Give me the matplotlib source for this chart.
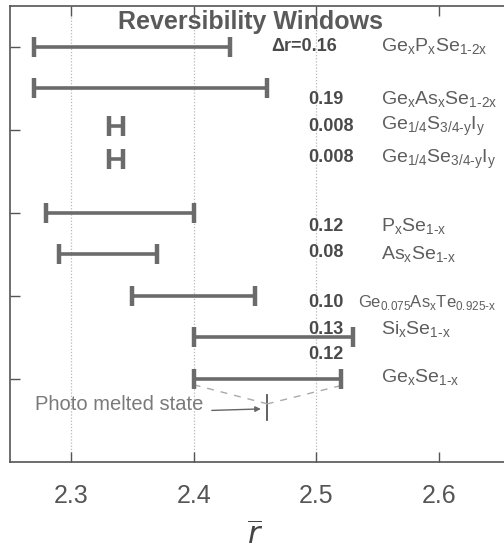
import matplotlib
matplotlib.use("Agg")
import matplotlib.pyplot as plt

plt.rcParams['font.family'] = ['Liberation Sans', 'DejaVu Sans']

# --- data: reversibility windows (r-bar ranges) ---
H = '\u2010'  # plain hyphen inside subscripts
systems = [r'Ge$_\mathregular{x}$P$_\mathregular{x}$Se$_\mathregular{1' + H + '2x}$',
           r'Ge$_\mathregular{x}$As$_\mathregular{x}$Se$_\mathregular{1' + H + '2x}$',
           r'Ge$_\mathregular{1/4}$S$_\mathregular{3/4' + H + r'y}$I$_\mathregular{y}$',
           r'Ge$_\mathregular{1/4}$Se$_\mathregular{3/4' + H + r'y}$I$_\mathregular{y}$',
           r'P$_\mathregular{x}$Se$_\mathregular{1' + H + 'x}$',
           r'As$_\mathregular{x}$Se$_\mathregular{1' + H + 'x}$',
           r'Ge$_\mathregular{0.075}$As$_\mathregular{x}$Te$_\mathregular{0.925' + H + 'x}$',
           r'Si$_\mathregular{x}$Se$_\mathregular{1' + H + 'x}$',
           r'Ge$_\mathregular{x}$Se$_\mathregular{1' + H + 'x}$']
widths = ['\u0394r=0.16', '0.19', '0.008', '0.008', '0.12', '0.08', '0.10', '0.13', '0.12']
r_low = [2.27, 2.27, 2.331, 2.331, 2.28, 2.29, 2.35, 2.40, 2.40]
r_high = [2.43, 2.46, 2.342, 2.342, 2.40, 2.37, 2.45, 2.53, 2.52]
row_y = [5.0, 4.5, 4.05, 3.65, 3.0, 2.5, 2.0, 1.5, 1.0]
width_y = [5.0, 4.36, 4.04, 3.66, 2.83, 2.52, 1.92, 1.60, 1.29]
label_y = [5.0, 4.36, 4.04, 3.64, 2.83, 2.49, 1.92, 1.59, 1.01]
photo_melted = 2.46

fig = plt.figure(figsize=(5.04, 5.52), dpi=100)
ax = fig.add_axes([10 / 504, 90 / 552, 500 / 504, 456 / 552])
ax.set_xlim(2.2503, 2.6578)
ax.set_ylim(0, 5.49)

for g in [2.3, 2.4, 2.5]:
    ax.axvline(g, color='#b8b8b8', lw=0.9, ls=(0, (1, 1.5)), zorder=0)

bar_col = '#6b6b6b'
for lo, hi, y in zip(r_low, r_high, row_y):
    c = (lo + hi) / 2
    ax.errorbar(c, y, xerr=(hi - lo) / 2, fmt='none', ecolor=bar_col,
                elinewidth=2.6, capsize=7.0, capthick=3.2, zorder=3)

for txt, y in zip(widths, width_y):
    x = 2.4635 if txt.startswith('\u0394') else 2.4935
    ax.text(x, y, txt, fontsize=13, fontweight='bold', color='#4a4a4a',
            ha='left', va='center')

for i, (txt, y) in enumerate(zip(systems, label_y)):
    x = 2.534 if i == 6 else 2.553
    fs = 12 if i == 6 else 14
    ax.text(x, y, txt, fontsize=fs, color='#5e5e5e', ha='left', va='center')

# photo melted state
ax.plot([photo_melted, photo_melted], [0.51, 0.81], color='#555555', lw=1.3)
ax.plot([2.40, photo_melted], [0.93, 0.70], color='#aaaaaa', lw=1.0, ls=(0, (5, 5)))
ax.plot([2.52, photo_melted], [0.92, 0.70], color='#aaaaaa', lw=1.0, ls=(0, (5, 5)))
ax.text(2.2707, 0.69, 'Photo melted state', fontsize=14.5, color='#7a7a7a',
        ha='left', va='center')
ax.annotate('', xy=(photo_melted - 0.003, 0.64), xytext=(2.4125, 0.62),
            arrowprops=dict(arrowstyle='-|>', color='#666666', lw=1.0,
                            mutation_scale=8))

ax.text(2.4467, 5.30, 'Reversibility Windows', fontsize=18, fontweight='bold',
        color='#5a5a5a', ha='center', va='center')

ax.set_xticks([2.3, 2.4, 2.5, 2.6])
ax.set_xticklabels(['2.3', '2.4', '2.5', '2.6'])
ax.set_yticks([1, 2, 3, 4, 5])
ax.set_yticklabels([])
ax.tick_params(axis='x', direction='in', length=7, width=1, colors='#555555',
               labelsize=18, pad=16, top=True)
ax.tick_params(axis='y', direction='in', length=7, width=1, colors='#555555')
for s in ax.spines.values():
    s.set_color('#555555')
    s.set_linewidth(1.2)

fig.text(0.5 * (71 + 439) / 504, 1 - 537 / 552, r'$\overline{r}$',
         fontsize=22, color='#444444', ha='center', va='center')

fig.savefig('out.png', dpi=100)
